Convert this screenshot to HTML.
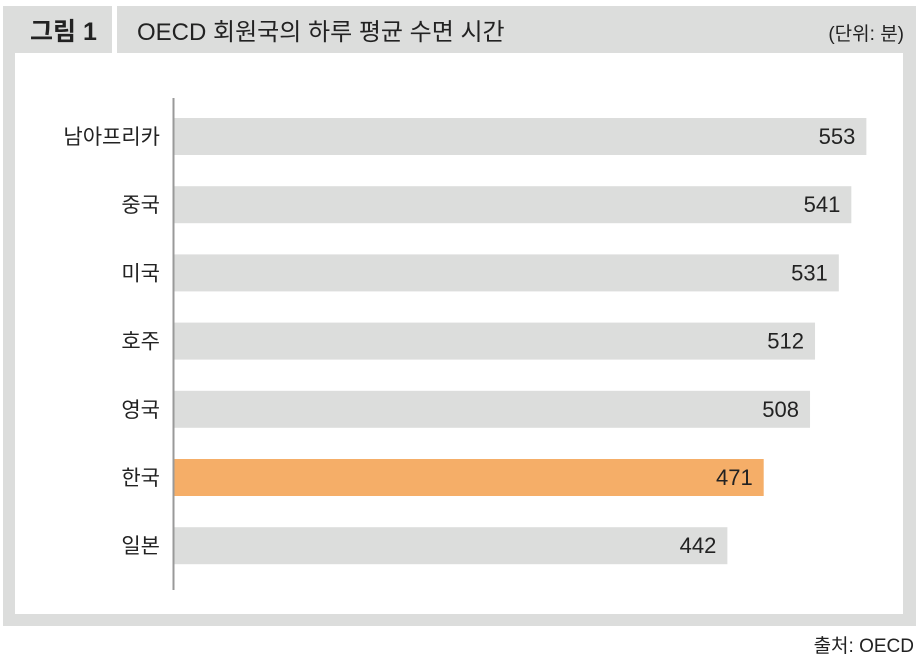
<!DOCTYPE html>
<html><head><meta charset="utf-8"><style>
body{margin:0;background:#fff;font-family:"Liberation Sans","Noto Sans CJK KR",sans-serif;}
#wrap{position:relative;width:920px;height:663px;overflow:hidden;}
</style></head><body>
<div id="wrap">
<svg width="920" height="663" xmlns="http://www.w3.org/2000/svg" id="svg">
<rect x="3" y="6" width="913" height="620" fill="#dcdddc"/>
<rect x="112" y="6" width="5" height="47" fill="#fff"/>
<rect x="15" y="53" width="888" height="561" fill="#fff"/>
<text x="30" y="40" font-size="25" font-weight="bold" fill="#222">그림 1</text>
<text x="137" y="40" font-size="24" fill="#222">OECD 회원국의 하루 평균 수면 시간</text>
<text x="904" y="40" font-size="19" fill="#222" text-anchor="end">(단위: 분)</text>
<text x="914" y="652" font-size="19" fill="#222" text-anchor="end">출처: OECD</text>
<g id="bars"></g>
<line x1="173.5" y1="98" x2="173.5" y2="590" stroke="#999" stroke-width="2"/>
</svg>
</div>
<script>
const categories=["남아프리카","중국","미국","호주","영국","한국","일본"];
const values=[553,541,531,512,508,471,442];
const highlight=["한국"];
const ns="http://www.w3.org/2000/svg";
const x0=174, pxPerUnit=1.252;
const xScale=v=>x0+v*pxPerUnit;
const yScale=i=>118+i*68.2;
const g=document.getElementById("bars");
categories.forEach((c,i)=>{
  const y=yScale(i);
  const r=document.createElementNS(ns,"rect");
  r.setAttribute("x",x0);r.setAttribute("y",y);
  r.setAttribute("width",xScale(values[i])-x0);r.setAttribute("height",37);
  r.setAttribute("fill",highlight.includes(c)?"#f5ae68":"#dcdddc");
  
  
  g.appendChild(r);
  const t=document.createElementNS(ns,"text");
  t.setAttribute("x",xScale(values[i])-11);t.setAttribute("y",y+26);
  t.setAttribute("text-anchor","end");t.setAttribute("font-size","22");t.setAttribute("fill","#222");
  t.textContent=values[i];
  
  
  g.appendChild(t);
  const l=document.createElementNS(ns,"text");
  l.setAttribute("x",160);l.setAttribute("y",y+26);
  l.setAttribute("text-anchor","end");l.setAttribute("font-size","21");l.setAttribute("fill","#222");
  l.textContent=c;
  
  
  g.appendChild(l);
});
</script>
</body></html>
